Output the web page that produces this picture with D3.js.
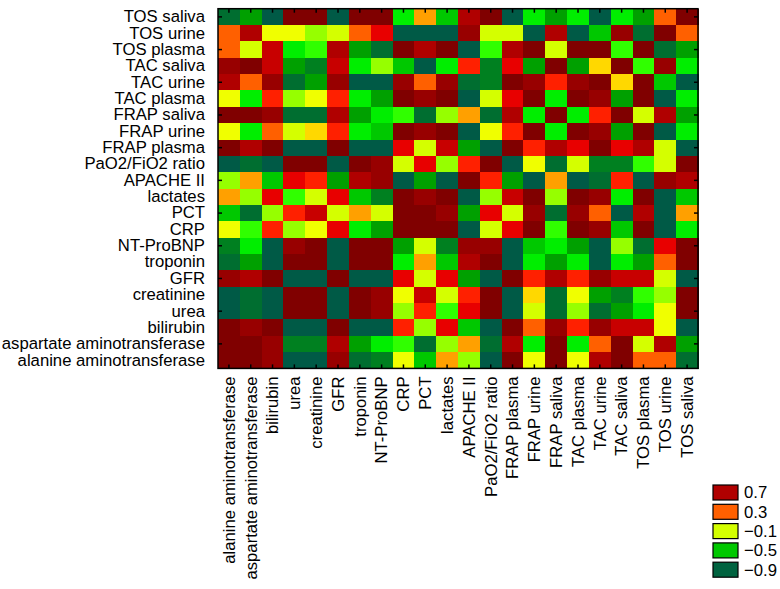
<!DOCTYPE html>
<html>
<head>
<meta charset="utf-8">
<script src="https://cdn.jsdelivr.net/npm/d3@7"></script>
<style>
  body { margin: 0; background: #fff; }
  text { font-family: "Liberation Sans", Arial, sans-serif; fill: #000; }
</style>
</head>
<body>
<div id="chart"></div>
<script>
// column order (x axis, left to right)
const xLabels = ["alanine aminotransferase", "aspartate aminotransferase", "bilirubin", "urea",
  "creatinine", "GFR", "troponin", "NT-ProBNP", "CRP", "PCT", "lactates", "APACHE II",
  "PaO2/FiO2 ratio", "FRAP plasma", "FRAP urine", "FRAP saliva", "TAC plasma", "TAC urine",
  "TAC saliva", "TOS plasma", "TOS urine", "TOS saliva"];

// row order (y axis, top to bottom)
const yLabels = xLabels.slice().reverse();

// correlation values, one row per y label (top to bottom), columns in xLabels order
const corr = [
  [-0.75,-0.55,-0.95,0.95,0.95,-0.95,0.95,0.95,-0.35,0.25,-0.45,0.75,0.95,-0.95,-0.35,-0.55,-0.35,-0.95,-0.35,-0.55,0.35,1],
  [0.35,0.75,0.05,0.05,-0.15,-0.05,0.35,0.55,-0.95,-0.95,-0.95,0.85,-0.05,-0.05,-0.95,0.75,-0.95,-0.45,0.85,-0.75,1,0.35],
  [0.35,-0.05,0.65,-0.35,-0.25,0.75,-0.55,-0.75,0.95,0.75,0.95,-0.95,-0.25,0.75,0.95,-0.05,0.95,0.95,-0.25,1,-0.75,-0.55],
  [0.88,0.95,0.65,-0.55,-0.65,0.65,-0.35,-0.15,-0.45,-0.95,-0.35,0.45,-0.65,0.55,-0.55,0.95,-0.55,0.15,1,-0.25,0.85,-0.35],
  [0.75,0.35,0.85,-0.75,-0.55,0.85,-0.95,-0.95,0.85,0.35,0.85,-0.75,-0.65,0.95,0.85,0.45,0.85,1,0.15,0.95,-0.45,-0.95],
  [0.05,-0.35,0.45,-0.15,0.05,0.45,-0.35,-0.55,0.95,0.85,0.95,-0.95,-0.05,0.55,0.95,-0.35,1,0.85,-0.55,0.95,-0.95,-0.35],
  [0.95,0.95,0.85,-0.75,-0.75,0.75,-0.55,-0.35,-0.25,-0.75,-0.15,0.25,-0.75,0.75,-0.35,1,-0.35,0.45,0.95,-0.05,0.75,-0.55],
  [0.05,-0.35,0.35,-0.05,0.15,0.45,-0.35,-0.45,0.95,0.85,0.95,-0.95,0.05,0.45,1,-0.35,0.95,0.85,-0.55,0.95,-0.95,-0.35],
  [0.95,0.75,0.95,-0.95,-0.95,0.95,-0.95,-0.95,0.55,-0.05,0.65,-0.55,-0.95,1,0.45,0.75,0.55,0.95,0.55,0.75,-0.05,-0.95],
  [-0.95,-0.75,-0.95,0.95,0.95,-0.95,0.95,0.85,-0.05,0.55,-0.15,0.45,1,-0.95,0.05,-0.75,-0.05,-0.65,-0.65,-0.25,-0.05,0.95],
  [-0.15,0.25,-0.45,0.55,0.45,-0.55,0.75,0.85,-0.95,-0.55,-0.95,1,0.45,-0.55,-0.95,0.25,-0.95,-0.75,0.45,-0.95,0.85,0.75],
  [0.25,-0.15,0.55,-0.25,-0.05,0.55,-0.45,-0.65,0.95,0.85,1,-0.95,-0.15,0.65,0.95,-0.15,0.95,0.85,-0.35,0.95,-0.95,-0.45],
  [-0.45,-0.75,-0.15,0.45,0.65,-0.05,0.25,-0.05,0.95,1,0.85,-0.55,0.55,-0.05,0.85,-0.75,0.85,0.35,-0.95,0.75,-0.95,0.25],
  [0.05,-0.25,0.45,-0.15,0.05,0.55,-0.35,-0.55,1,0.95,0.95,-0.95,-0.05,0.55,0.95,-0.25,0.95,0.85,-0.45,0.95,-0.95,-0.35],
  [-0.65,-0.35,-0.95,0.88,0.95,-0.95,0.95,1,-0.55,-0.05,-0.65,0.88,0.85,-0.95,-0.45,-0.35,-0.55,-0.95,-0.15,-0.75,0.55,0.95],
  [-0.75,-0.55,-0.95,0.95,0.95,-0.95,1,0.95,-0.35,0.25,-0.45,0.75,0.95,-0.95,-0.35,-0.55,-0.35,-0.95,-0.35,-0.55,0.35,0.95],
  [0.88,0.75,0.95,-0.95,-0.95,1,-0.95,-0.95,0.55,-0.05,0.55,-0.55,-0.95,0.95,0.45,0.75,0.45,0.85,0.65,0.65,-0.05,-0.95],
  [-0.95,-0.75,-0.95,0.95,1,-0.95,0.95,0.85,0.05,0.65,-0.05,0.45,0.95,-0.95,0.15,-0.75,0.05,-0.55,-0.65,-0.25,-0.15,0.95],
  [-0.95,-0.75,-0.95,1,0.95,-0.95,0.95,0.85,-0.15,0.45,-0.25,0.55,0.95,-0.95,-0.05,-0.75,-0.15,-0.75,-0.55,-0.35,0.05,0.95],
  [0.95,0.85,1,-0.95,-0.95,0.95,-0.95,-0.95,0.45,-0.15,0.55,-0.45,-0.95,0.95,0.35,0.85,0.45,0.85,0.65,0.65,0.05,-0.95],
  [0.95,1,0.85,-0.65,-0.65,0.75,-0.55,-0.35,-0.25,-0.75,-0.15,0.25,-0.75,0.75,-0.35,0.95,-0.35,0.35,0.95,-0.05,0.75,-0.55],
  [1,0.95,0.88,-0.95,-0.95,0.88,-0.75,-0.65,0.05,-0.45,0.25,-0.15,-0.95,0.95,0.05,0.95,0.05,0.75,0.95,0.35,0.35,-0.72]
];

// contour levels and colours (step 0.1)
const levels = d3.range(-0.9, 0.95, 0.1).map(d => +d.toFixed(1));
const levelColors = ["#005a46", "#006340", "#006e30", "#008020", "#00a000", "#00c800", "#00ee00",
  "#30ff00", "#96ff00", "#d4ff00", "#f0ff00", "#ffd800", "#ffa000", "#ff6000", "#ff2000",
  "#e80000", "#c80000", "#b00000", "#980000", "#800000"];

const legendValues = [0.7, 0.3, -0.1, -0.5, -0.9];

const W = 780, H = 589;
const margin = {top: 8.7, left: 218};
const width = 480, height = 359.7;
const fontSize = 16.7;

const svg = d3.select("#chart").append("svg")
  .attr("width", W)
  .attr("height", H);

const g = svg.append("g")
  .attr("transform", `translate(${margin.left},${margin.top})`);

const x = d3.scaleBand().domain(xLabels).range([0, width]);
const y = d3.scaleBand().domain(yLabels).range([0, height]);
const color = d3.scaleThreshold().domain(levels).range(levelColors);

// cells
const cells = [];
corr.forEach((row, i) => row.forEach((v, j) => cells.push({r: yLabels[i], c: xLabels[j], v: v})));

g.append("g")
  .selectAll("rect")
  .data(cells)
  .join("rect")
    .attr("x", d => x(d.c))
    .attr("y", d => y(d.r))
    .attr("width", x.bandwidth() + 0.5)
    .attr("height", y.bandwidth() + 0.5)
    .attr("fill", d => color(d.v))
    .attr("shape-rendering", "crispEdges");

// labels
const yAxis = g.append("g")
  .call(d3.axisLeft(y).tickSize(0).tickPadding(13));
yAxis.select(".domain").remove();
yAxis.selectAll("text").attr("font-size", fontSize).style("font-family", "Liberation Sans, Arial, sans-serif");

const xAxis = g.append("g")
  .attr("transform", `translate(0,${height})`)
  .call(d3.axisBottom(x).tickSize(0));
xAxis.select(".domain").remove();
xAxis.selectAll("text")
  .attr("font-size", fontSize)
  .style("font-family", "Liberation Sans, Arial, sans-serif")
  .attr("transform", "rotate(-90)")
  .attr("x", -8)
  .attr("y", 0)
  .attr("dy", "0.35em")
  .style("text-anchor", "end");

// inward tick marks
const everyOther = yLabels.filter((d, i) => i % 2 === 0);
const tickAxes = [
  g.append("g").call(d3.axisTop(x).tickSize(-4).tickFormat("")),
  g.append("g").attr("transform", `translate(0,${height})`).call(d3.axisBottom(x).tickSize(-4).tickFormat("")),
  g.append("g").call(d3.axisLeft(y).tickValues(everyOther).tickSize(-4).tickFormat("")),
  g.append("g").attr("transform", `translate(${width},0)`).call(d3.axisRight(y).tickValues(everyOther).tickSize(-4).tickFormat(""))
];
tickAxes.forEach(a => {
  a.select(".domain").remove();
  a.selectAll("line").attr("stroke", "#000").attr("stroke-width", 1.5);
});

// frame
g.append("rect")
  .attr("width", width)
  .attr("height", height)
  .attr("fill", "none")
  .attr("stroke", "#000")
  .attr("stroke-width", 1.5);

// legend
const legend = svg.append("g").attr("transform", "translate(713,485)");
const item = legend.selectAll("g")
  .data(legendValues)
  .join("g")
    .attr("transform", (d, i) => `translate(0,${i * 19.3})`);
item.append("rect")
  .attr("width", 25)
  .attr("height", 15)
  .attr("fill", d => color(d + 0.05))
  .attr("stroke", "#000")
  .attr("stroke-width", 1.2);
item.append("text")
  .attr("x", 31)
  .attr("y", 7.5)
  .attr("dy", "0.35em")
  .attr("font-size", fontSize)
  .text(d => String(d).replace("-", "\u2212"));
</script>
</body>
</html>
